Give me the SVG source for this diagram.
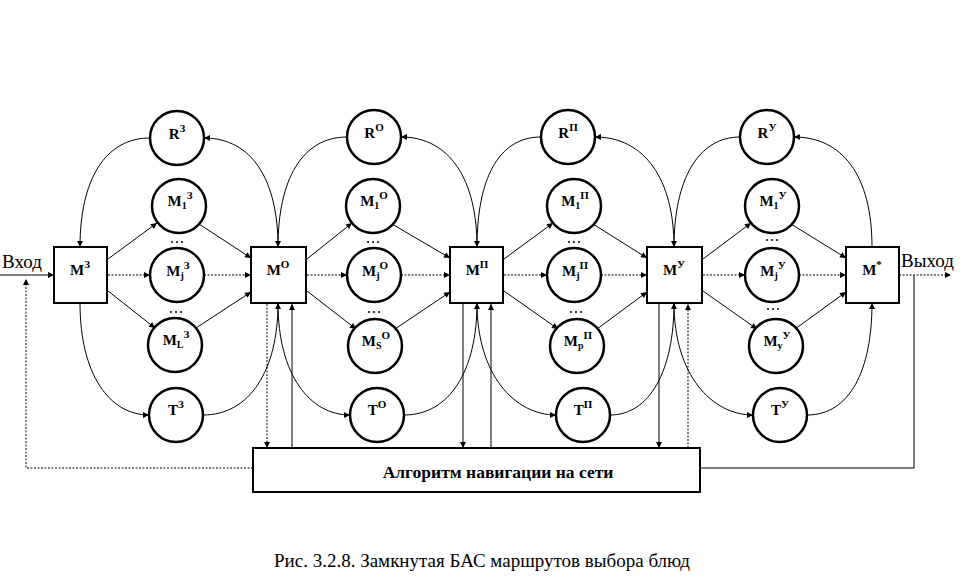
<svg xmlns="http://www.w3.org/2000/svg" width="964" height="578" viewBox="0 0 964 578">
<defs>
<style>
.c{fill:#fff;stroke:#000;stroke-width:2.5}
.sq{fill:#fff;stroke:#000;stroke-width:2}
.l{fill:none;stroke:#000;stroke-width:1}
.d{stroke-dasharray:2,1.5}
.a{marker-end:url(#ah)}
.t{font-family:'Liberation Serif','Tinos','Times New Roman','DejaVu Serif',serif;font-weight:bold;font-size:15px;text-anchor:middle;fill:#000}
.sub{font-size:10px}
.sup{font-size:11px}
.reg{font-family:'Liberation Serif','Tinos','Times New Roman','DejaVu Serif',serif;font-size:19px;fill:#000}
.dot{fill:#000}
</style>
<marker id="ah" viewBox="0 0 10 10" refX="10" refY="5" markerWidth="8" markerHeight="6" orient="auto" markerUnits="userSpaceOnUse"><path d="M0,0 L10,5 L0,10 z" fill="#000"/></marker>
</defs>
<rect width="964" height="578" fill="#fff"/>

<g id="connectors">
<line class="l a" x1="0" y1="275" x2="54" y2="275"/>
<line class="l d a" x1="899" y1="275" x2="951" y2="275"/>
<polyline class="l d a" points="253,468 26,468 26,279"/>
<polyline class="l" points="700,468 914,468 914,275"/>

<line class="l a" x1="108" y1="259" x2="157" y2="223"/>
<line class="l d a" x1="108" y1="275" x2="150" y2="275"/>
<line class="l a" x1="108" y1="291" x2="155" y2="328"/>
<line class="l a" x1="199" y1="224" x2="251" y2="258"/>
<line class="l d a" x1="204" y1="275" x2="251" y2="275"/>
<line class="l a" x1="196" y1="328" x2="251" y2="292"/>

<line class="l a" x1="307" y1="259" x2="352" y2="223"/>
<line class="l d a" x1="307" y1="275" x2="347" y2="275"/>
<line class="l a" x1="307" y1="291" x2="356" y2="329"/>
<line class="l a" x1="392" y1="224" x2="450" y2="258"/>
<line class="l d a" x1="401" y1="275" x2="450" y2="275"/>
<line class="l a" x1="395" y1="329" x2="450" y2="292"/>

<line class="l a" x1="504" y1="259" x2="553" y2="223"/>
<line class="l d a" x1="504" y1="275" x2="547" y2="275"/>
<line class="l a" x1="504" y1="291" x2="558" y2="329"/>
<line class="l a" x1="593" y1="224" x2="647" y2="258"/>
<line class="l d a" x1="601" y1="275" x2="647" y2="275"/>
<line class="l a" x1="597" y1="329" x2="647" y2="292"/>

<line class="l a" x1="703" y1="259" x2="751" y2="223"/>
<line class="l d a" x1="703" y1="275" x2="745" y2="275"/>
<line class="l a" x1="703" y1="291" x2="757" y2="329"/>
<line class="l a" x1="791" y1="224" x2="846" y2="258"/>
<line class="l d a" x1="799" y1="275" x2="846" y2="275"/>
<line class="l a" x1="795" y1="329" x2="846" y2="292"/>

<path class="l a" d="M150,138 C105,138 80,180 80,247"/>
<path class="l a" d="M278,247 C278,180 252,138 204,138"/>
<path class="l a" d="M347,137 C302,137 278,180 278,247"/>
<path class="l a" d="M477,247 C477,180 450,137 401,137"/>
<path class="l a" d="M541,137 C498,137 477,180 477,247"/>
<path class="l a" d="M674,247 C674,180 645,137 595,137"/>
<path class="l a" d="M740,137 C698,137 674,180 674,247"/>
<path class="l a" d="M872,247 C872,175 842,137 794,137"/>

<path class="l a" d="M80,303 C80,375 110,415 149,415"/>
<path class="l a" d="M203,415 C250,415 278,370 278,303"/>
<path class="l a" d="M278,303 C278,375 310,415 350,415"/>
<path class="l a" d="M404,415 C450,415 477,370 477,303"/>
<path class="l a" d="M477,303 C477,375 515,415 556,415"/>
<path class="l a" d="M610,415 C650,415 674,370 674,303"/>
<path class="l a" d="M674,303 C674,375 712,415 753,415"/>
<path class="l a" d="M807,415 C850,415 872,370 872,303"/>

<line class="l d a" x1="267" y1="304" x2="267" y2="448"/>
<line class="l a" x1="292" y1="448" x2="292" y2="304"/>
<line class="l a" x1="463" y1="304" x2="463" y2="448"/>
<line class="l a" x1="491" y1="448" x2="491" y2="304"/>
<line class="l a" x1="659" y1="304" x2="659" y2="448"/>
<line class="l d a" x1="688" y1="448" x2="688" y2="304"/>
</g>

<g id="M3"><rect class="sq" x="54" y="247" width="53" height="56"/><text class="t" x="80" y="275">M<tspan class="sup" dy="-7">З</tspan></text></g>
<g id="MO"><rect class="sq" x="251" y="247" width="55" height="56"/><text class="t" x="278" y="275">M<tspan class="sup" dy="-7">О</tspan></text></g>
<g id="MP"><rect class="sq" x="450" y="247" width="53" height="56"/><text class="t" x="477" y="275">M<tspan class="sup" dy="-7">П</tspan></text></g>
<g id="MU"><rect class="sq" x="647" y="247" width="55" height="56"/><text class="t" x="674" y="275">M<tspan class="sup" dy="-7">У</tspan></text></g>
<g id="Mstar"><rect class="sq" x="846" y="247" width="53" height="56"/><text class="t" x="872" y="275">M<tspan class="sup" dy="-7">*</tspan></text></g>

<g id="R3"><circle class="c" cx="177" cy="138" r="27"/><text class="t" x="177" y="139">R<tspan class="sup" dy="-7">З</tspan></text></g>
<g id="M1_3"><circle class="c" cx="179" cy="206" r="27"/><text class="t" x="180" y="206">M<tspan class="sub" dy="3">1</tspan><tspan class="sup" dy="-10">З</tspan></text></g>
<g id="Mj_3"><circle class="c" cx="177" cy="275" r="27"/><text class="t" x="178" y="276">M<tspan class="sub" dy="3">j</tspan><tspan class="sup" dy="-10">З</tspan></text></g>
<g id="ML_3"><circle class="c" cx="175" cy="345" r="27"/><text class="t" x="176" y="345">M<tspan class="sub" dy="3">L</tspan><tspan class="sup" dy="-10">З</tspan></text></g>
<g id="T3"><circle class="c" cx="176" cy="415" r="27"/><text class="t" x="176" y="415">T<tspan class="sup" dy="-7">З</tspan></text></g>

<g id="RO"><circle class="c" cx="374" cy="137" r="27"/><text class="t" x="374" y="138">R<tspan class="sup" dy="-7">О</tspan></text></g>
<g id="M1_O"><circle class="c" cx="373" cy="206" r="27"/><text class="t" x="374" y="206">M<tspan class="sub" dy="3">1</tspan><tspan class="sup" dy="-10">О</tspan></text></g>
<g id="Mj_O"><circle class="c" cx="374" cy="275" r="27"/><text class="t" x="375" y="276">M<tspan class="sub" dy="3">j</tspan><tspan class="sup" dy="-10">О</tspan></text></g>
<g id="MS_O"><circle class="c" cx="375" cy="346" r="27"/><text class="t" x="376" y="346">M<tspan class="sub" dy="3">S</tspan><tspan class="sup" dy="-10">О</tspan></text></g>
<g id="TO"><circle class="c" cx="377" cy="415" r="27"/><text class="t" x="377" y="415">T<tspan class="sup" dy="-7">О</tspan></text></g>

<g id="RP"><circle class="c" cx="568" cy="137" r="27"/><text class="t" x="568" y="138">R<tspan class="sup" dy="-7">П</tspan></text></g>
<g id="M1_P"><circle class="c" cx="574" cy="206" r="27"/><text class="t" x="575" y="206">M<tspan class="sub" dy="3">1</tspan><tspan class="sup" dy="-10">П</tspan></text></g>
<g id="Mj_P"><circle class="c" cx="574" cy="275" r="27"/><text class="t" x="575" y="276">M<tspan class="sub" dy="3">j</tspan><tspan class="sup" dy="-10">П</tspan></text></g>
<g id="Mp_P"><circle class="c" cx="577" cy="346" r="27"/><text class="t" x="578" y="346">M<tspan class="sub" dy="3">p</tspan><tspan class="sup" dy="-10">П</tspan></text></g>
<g id="TP"><circle class="c" cx="583" cy="415" r="27"/><text class="t" x="583" y="415">T<tspan class="sup" dy="-7">П</tspan></text></g>

<g id="RU"><circle class="c" cx="767" cy="137" r="27"/><text class="t" x="767" y="138">R<tspan class="sup" dy="-7">У</tspan></text></g>
<g id="M1_U"><circle class="c" cx="772" cy="206" r="27"/><text class="t" x="773" y="206">M<tspan class="sub" dy="3">1</tspan><tspan class="sup" dy="-10">У</tspan></text></g>
<g id="Mj_U"><circle class="c" cx="772" cy="275" r="27"/><text class="t" x="773" y="276">M<tspan class="sub" dy="3">j</tspan><tspan class="sup" dy="-10">У</tspan></text></g>
<g id="My_U"><circle class="c" cx="776" cy="346" r="27"/><text class="t" x="777" y="346">M<tspan class="sub" dy="3">y</tspan><tspan class="sup" dy="-10">У</tspan></text></g>
<g id="TU"><circle class="c" cx="780" cy="415" r="27"/><text class="t" x="780" y="415">T<tspan class="sup" dy="-7">У</tspan></text></g>

<g id="dots">
<circle class="dot" cx="172" cy="242" r="1"/><circle class="dot" cx="177" cy="242" r="1"/><circle class="dot" cx="182" cy="242" r="1"/>
<circle class="dot" cx="171" cy="312" r="1"/><circle class="dot" cx="176" cy="312" r="1"/><circle class="dot" cx="181" cy="312" r="1"/>
<circle class="dot" cx="368" cy="242" r="1"/><circle class="dot" cx="373" cy="242" r="1"/><circle class="dot" cx="378" cy="242" r="1"/>
<circle class="dot" cx="369" cy="312" r="1"/><circle class="dot" cx="374" cy="312" r="1"/><circle class="dot" cx="379" cy="312" r="1"/>
<circle class="dot" cx="569" cy="242" r="1"/><circle class="dot" cx="574" cy="242" r="1"/><circle class="dot" cx="579" cy="242" r="1"/>
<circle class="dot" cx="571" cy="312" r="1"/><circle class="dot" cx="576" cy="312" r="1"/><circle class="dot" cx="581" cy="312" r="1"/>
<circle class="dot" cx="767" cy="240" r="1"/><circle class="dot" cx="772" cy="240" r="1"/><circle class="dot" cx="777" cy="240" r="1"/>
<circle class="dot" cx="768" cy="309" r="1"/><circle class="dot" cx="773" cy="309" r="1"/><circle class="dot" cx="778" cy="309" r="1"/>
</g>

<g id="algorithm"><rect class="sq" x="253" y="448" width="447" height="44"/><text class="t" x="498" y="478" style="font-size:17.5px">Алгоритм навигации на сети</text></g>

<g id="io">
<text class="reg" x="2" y="268">Вход</text>
<text class="reg" x="901" y="267">Выход</text>
</g>

<text id="caption" class="reg" x="482" y="567" text-anchor="middle">Рис. 3.2.8. Замкнутая БАС маршрутов выбора блюд</text>
</svg>
